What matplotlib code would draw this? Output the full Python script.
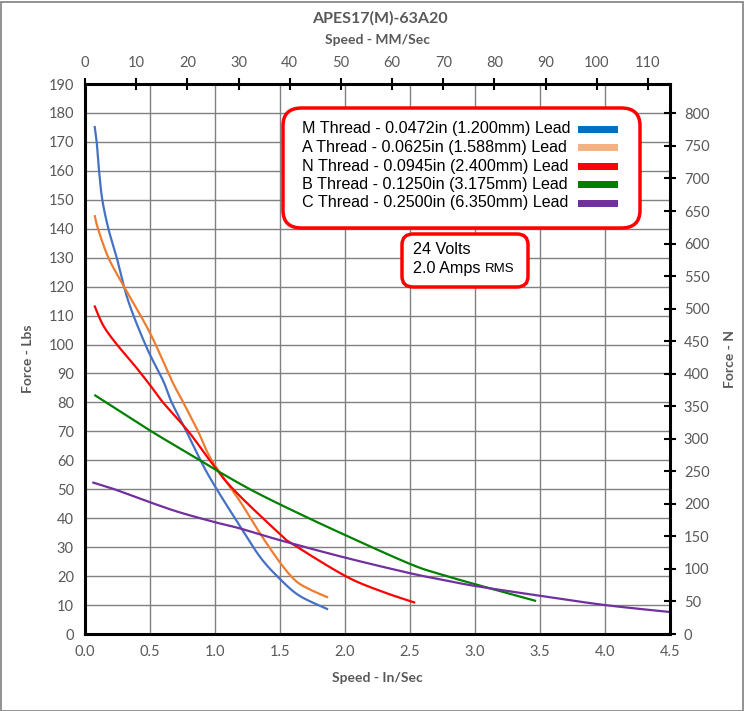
import matplotlib
matplotlib.use("Agg")
import matplotlib.pyplot as plt
from matplotlib.patches import FancyBboxPatch, Rectangle
import numpy as np

# data (speed in/sec, force lbs)
m_speed = [0.074, 0.09, 0.108, 0.133, 0.18, 0.244, 0.333, 0.474, 0.6, 0.667, 0.78,
           0.9, 1.0, 1.19, 1.35, 1.5, 1.65, 1.87]
m_force = [175.5, 170, 160, 150, 140, 130, 115, 99, 87.6, 80, 70,
           59, 51, 37.4, 26.4, 19, 13.2, 8.5]

a_speed = [0.074, 0.1, 0.18, 0.3, 0.5, 0.667, 0.756, 0.87, 0.975, 1.19, 1.35, 1.5,
           1.615, 1.72, 1.87]
a_force = [144.7, 140, 130, 120, 104, 87.6, 80, 70, 60, 46, 34.5, 24.7,
           18.6, 15.6, 12.6]

n_speed = [0.072, 0.14, 0.24, 0.37, 0.5, 0.6, 0.795, 0.96, 1.14, 1.5, 1.6,
           2.0, 2.27, 2.54]
n_force = [113.5, 106.6, 100.3, 93.4, 86, 80, 70, 60, 50, 34.5, 31,
           20.1, 14.9, 10.8]

b_speed = [0.072, 0.5, 0.885, 1.04, 1.29, 1.6, 2.0, 2.5, 2.73, 3.0, 3.47]
b_force = [82.6, 70.3, 60, 55.8, 49.5, 42.6, 34.2, 24.2, 20.7, 17.2, 11.4]

c_speed = [0.056, 0.22, 0.5, 0.73, 1.01, 1.19, 1.5, 2.0, 2.5, 2.73, 3.0, 3.5,
           4.0, 4.5]
c_force = [52.4, 50.1, 45.5, 42, 38.5, 36.5, 32.4, 26.4, 21, 18.9, 16.6, 13.2,
           10, 7.6]

labels = [
    "M Thread - 0.0472in (1.200mm) Lead",
    "A Thread - 0.0625in (1.588mm) Lead",
    "N Thread - 0.0945in (2.400mm) Lead",
    "B Thread - 0.1250in (3.175mm) Lead",
    "C Thread - 0.2500in (6.350mm) Lead",
]
line_colors = ["#4472C4", "#ED7D31", "#FF0000", "#008000", "#7030A0"]
key_colors = ["#0070C0", "#F4B183", "#FF0000", "#008000", "#7030A0"]

LBS_TO_N = 4.44822
IN_TO_MM = 25.4
txt = "#595959"


def smooth(xs, ys, n=20):
    # excel-style smoothed line (catmull-rom through the points)
    p = np.column_stack([xs, ys]).astype(float)
    p = np.vstack([p[0], p, p[-1]])
    out = []
    t = np.linspace(0, 1, n, endpoint=False)[:, None]
    for i in range(1, len(p) - 2):
        p0, p1, p2, p3 = p[i - 1], p[i], p[i + 1], p[i + 2]
        seg = 0.5 * ((2 * p1) + (-p0 + p2) * t
                     + (2 * p0 - 5 * p1 + 4 * p2 - p3) * t ** 2
                     + (-p0 + 3 * p1 - 3 * p2 + p3) * t ** 3)
        out.append(seg)
    out.append(p[-2][None, :])
    out = np.vstack(out)
    return out[:, 0], out[:, 1]


plt.rcParams["font.family"] = ["Lato", "DejaVu Sans"]

fig = plt.figure(figsize=(7.44, 7.11), dpi=100)
ax = fig.add_axes([85 / 744, 1 - 634 / 711, 585 / 744, 550 / 711])

series = [(m_speed, m_force), (a_speed, a_force), (n_speed, n_force),
          (b_speed, b_force), (c_speed, c_force)]
for (xs, ys), col in zip(series, line_colors):
    sx, sy = smooth(xs, ys)
    ax.plot(sx, sy, color=col, lw=1.6, zorder=3, solid_capstyle="butt")

ax.set_xlim(0, 4.5)
ax.set_ylim(0, 190)
ax.set_xticks(np.arange(0, 4.51, 0.5))
ax.set_yticks(np.arange(0, 191, 10))
ax.xaxis.set_major_formatter(plt.FormatStrFormatter("%.1f"))
ax.grid(True, color="#808080", lw=1)
ax.set_axisbelow(True)
ax.tick_params(length=0, labelsize=10.5, labelcolor=txt, pad=8)
for s in ["left", "bottom"]:
    ax.spines[s].set_linewidth(2.2)
    ax.spines[s].set_color("black")
for s in ["top", "right"]:
    ax.spines[s].set_visible(False)
ax.set_xlabel("Speed - In/Sec", fontsize=10, fontweight="bold", color=txt, labelpad=9)
ax.set_ylabel("Force - Lbs", fontsize=10, fontweight="bold", color=txt, labelpad=10)

# right axis in Newtons
axr = ax.twinx()
axr.set_ylim(0, 190 * LBS_TO_N)
axr.set_yticks(np.arange(0, 801, 50))
axr.tick_params(direction="inout", length=8, width=1.5, labelsize=10.5,
                labelcolor=txt, pad=6)
axr.spines["right"].set_linewidth(2.2)
for s in ["left", "bottom", "top"]:
    axr.spines[s].set_visible(False)
axr.set_ylabel("Force - N", fontsize=10, fontweight="bold", color=txt, labelpad=10)

# top axis in mm/sec
axt = ax.twiny()
axt.set_xlim(0, 4.5 * IN_TO_MM)
axt.set_xticks(np.arange(0, 111, 10))
axt.tick_params(direction="inout", length=8, width=1.5, labelsize=10.5,
                labelcolor=txt, pad=6)
axt.spines["top"].set_linewidth(2.2)
for s in ["left", "bottom", "right"]:
    axt.spines[s].set_visible(False)
axt.set_xlabel("Speed - MM/Sec", fontsize=10, fontweight="bold", color=txt, labelpad=9)

fig.text(380 / 744, 1 - 18 / 711, "APES17(M)-63A20", ha="center", va="center",
         fontsize=11.5, fontweight="bold", color=txt)


def px(x, y):
    return x / 744, 1 - y / 711


# legend box
x0, y0 = px(283, 228)
x1, y1 = px(640, 108)
fig.patches.append(FancyBboxPatch((x0, y0), x1 - x0, y1 - y0,
                                  boxstyle="round,pad=0,rounding_size=0.025",
                                  transform=fig.transFigure, fc="white",
                                  ec="red", lw=2.5, zorder=5))
row_y = [129, 147.5, 166, 184.5, 203]
for lab, kc, ry in zip(labels, key_colors, row_y):
    tx, ty = px(302, ry)
    fig.text(tx, ty, lab, ha="left", va="center", fontsize=11.6,
             family=["Liberation Sans"], color="black", zorder=6)
    rx, rty = px(578, ry + 3.5)
    fig.patches.append(Rectangle((rx, rty), 40 / 744, 7 / 711,
                                 transform=fig.transFigure, fc=kc, ec="none",
                                 zorder=6))

# voltage / current box
x0, y0 = px(402, 287)
x1, y1 = px(528, 234)
fig.patches.append(FancyBboxPatch((x0, y0), x1 - x0, y1 - y0,
                                  boxstyle="round,pad=0,rounding_size=0.015",
                                  transform=fig.transFigure, fc="white",
                                  ec="red", lw=2.5, zorder=5))
tx, ty = px(413, 250)
fig.text(tx, ty, "24 Volts", ha="left", va="center", fontsize=11.6,
         family=["Liberation Sans"], zorder=6)
tx, ty = px(413, 269)
t = fig.text(tx, ty, "2.0 Amps ", ha="left", va="center", fontsize=11.6,
             family=["Liberation Sans"], zorder=6)
fig.canvas.draw()
bb = t.get_window_extent()
fig.text(bb.x1 / fig.bbox.width, ty - 0.5 / 711, "RMS", ha="left", va="center",
         fontsize=9.5, family=["Liberation Sans"], zorder=6)

# outer frame
fig.patches.append(Rectangle((0.5 / 744, 0.5 / 711), 1 - 2 / 744, 1 - 2 / 711,
                             transform=fig.transFigure, fc="none",
                             ec="#7f7f7f", lw=1.2))

fig.savefig("out.png", dpi=100)
